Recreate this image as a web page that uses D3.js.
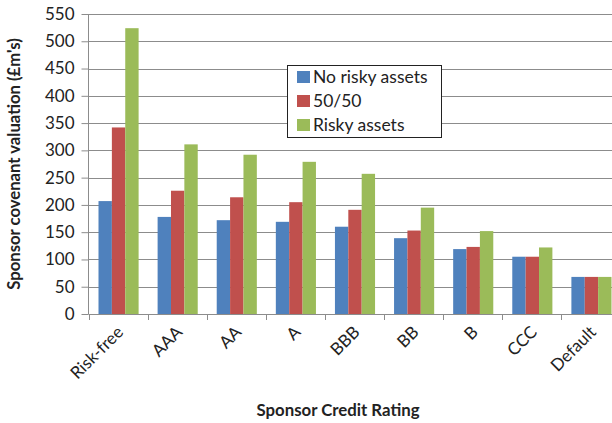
<!DOCTYPE html>
<html>
<head>
<meta charset="utf-8">
<script src="https://cdn.jsdelivr.net/npm/d3@7"></script>
<style>
  body { margin: 0; background: #fff; }
  svg { display: block; font-family: Lato, "Open Sans", sans-serif; }
</style>
</head>
<body>
<div id="chart"></div>
<script>
var categories = ["Risk-free", "AAA", "AA", "A", "BBB", "BB", "B", "CCC", "Default"];
var seriesNames = ["No risky assets", "50/50", "Risky assets"];
var noRisky = [207, 178, 172, 169, 160, 139, 119, 105, 68];
var fiftyFifty = [342, 226, 214, 205, 191, 153, 123, 105, 68];
var risky = [524, 311, 292, 279, 257, 195, 152, 122, 68];
var yTicks = [0, 50, 100, 150, 200, 250, 300, 350, 400, 450, 500, 550];
var colors = ["#4F81BD", "#C0504D", "#9BBB59"];

var W = 612, H = 423;
var plot = {left: 88.5, right: 620.5, top: 14, bottom: 314};

var data = categories.map(function(c, i) {
  return {cat: c, vals: [noRisky[i], fiftyFifty[i], risky[i]]};
});

var svg = d3.select("#chart").append("svg")
    .attr("width", W)
    .attr("height", H);

var x = d3.scaleBand()
  .domain(categories)
  .range([plot.left, plot.right]);

var xs = d3.scaleBand()
  .domain(d3.range(3))
  .range([10, x.bandwidth() - 9]);

var y = d3.scaleLinear()
  .domain([0, 550])
  .range([plot.bottom, plot.top]);

// gridlines
svg.append("g")
  .selectAll("line")
  .data(yTicks.slice(1))
  .enter().append("line")
    .attr("x1", plot.left)
    .attr("x2", W)
    .attr("y1", function(d) { return Math.round(y(d)) + 0.5; })
    .attr("y2", function(d) { return Math.round(y(d)) + 0.5; })
    .attr("stroke", "#8c8c8c")
    .attr("stroke-width", 1);

// bars
var group = svg.append("g").selectAll(".grp")
  .data(data)
  .enter().append("g")
    .attr("class", "grp")
    .attr("transform", function(d) { return "translate(" + x(d.cat) + ",0)"; });

group.selectAll("rect")
  .data(function(d) { return d.vals; })
  .enter().append("rect")
    .attr("x", function(d, i) { return xs(i); })
    .attr("width", xs.bandwidth())
    .attr("y", function(d) { return y(d); })
    .attr("height", function(d) { return plot.bottom - y(d); })
    .attr("fill", function(d, i) { return colors[i]; });

// y axis
var yAxis = d3.axisLeft(y)
  .tickValues(yTicks)
  .tickSize(7)
  .tickPadding(7);

var gy = svg.append("g")
  .attr("transform", "translate(" + plot.left + ",0)")
  .call(yAxis);
gy.select(".domain").attr("stroke", "#8c8c8c").attr("d", "M0," + plot.top + "V" + plot.bottom);
gy.selectAll(".tick line").attr("stroke", "#8c8c8c");
gy.selectAll(".tick text")
  .attr("font-size", 17)
  .attr("fill", "#222")
  .style("font-family", "Lato, 'Open Sans', sans-serif");

// x axis baseline and ticks at category boundaries
svg.append("line")
  .attr("x1", plot.left).attr("x2", W)
  .attr("y1", plot.bottom + 0.5).attr("y2", plot.bottom + 0.5)
  .attr("stroke", "#8c8c8c");

svg.append("g")
  .selectAll("line")
  .data(categories)
  .enter().append("line")
    .attr("x1", function(d) { return Math.round(x(d)) + 0.5; })
    .attr("x2", function(d) { return Math.round(x(d)) + 0.5; })
    .attr("y1", plot.bottom)
    .attr("y2", plot.bottom + 6)
    .attr("stroke", "#8c8c8c");

svg.append("g")
  .selectAll("text")
  .data(categories)
  .enter().append("text")
    .attr("transform", function(d) {
      return "translate(" + (x(d) + x.bandwidth() / 2 + 2) + "," + (plot.bottom + 15) + ") rotate(-45)";
    })
    .attr("text-anchor", "end")
    .attr("dy", "0.35em")
    .attr("font-size", 17)
    .attr("fill", "#222")
    .text(function(d) { return d; });

// axis titles
svg.append("text")
  .attr("transform", "translate(20," + ((plot.top + plot.bottom) / 2) + ") rotate(-90)")
  .attr("text-anchor", "middle")
  .attr("font-size", 16.7)
  .attr("font-weight", "bold")
  .attr("fill", "#222")
  .text("Sponsor covenant valuation (£m's)");

svg.append("text")
  .attr("x", 338)
  .attr("y", 416)
  .attr("text-anchor", "middle")
  .attr("font-size", 16.8)
  .attr("font-weight", "bold")
  .attr("fill", "#222")
  .text("Sponsor Credit Rating");

// legend
var legend = svg.append("g").attr("transform", "translate(287,65)");
legend.append("rect")
  .attr("x", 0.5).attr("y", 0.5)
  .attr("width", 154).attr("height", 72)
  .attr("fill", "#fff")
  .attr("stroke", "#222");

var item = legend.selectAll(".item")
  .data(seriesNames)
  .enter().append("g")
    .attr("class", "item")
    .attr("transform", function(d, i) { return "translate(10," + (6 + i * 24) + ")"; });

item.append("rect")
  .attr("width", 13).attr("height", 12)
  .attr("fill", function(d, i) { return colors[i]; });

item.append("text")
  .attr("x", 16)
  .attr("y", 6)
  .attr("dy", "0.35em")
  .attr("font-size", 17.5)
  .attr("fill", "#222")
  .text(function(d) { return d; });
</script>
</body>
</html>
